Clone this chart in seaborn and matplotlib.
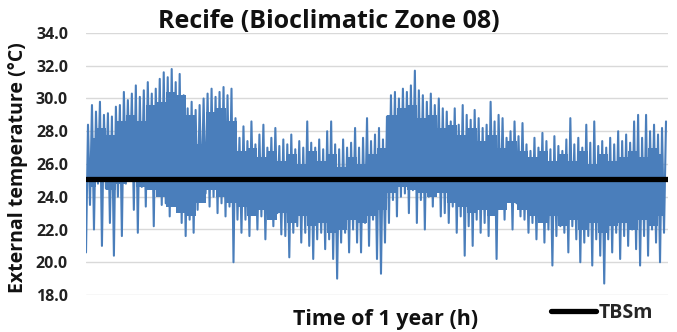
import numpy as np
import pandas as pd
import matplotlib
matplotlib.use("Agg")
import matplotlib.pyplot as plt
import seaborn as sns

# Envelope of hourly external temperature (°C) in ~60 h steps
upper = [28.4, 29.6, 29.2, 29.8, 29.0, 29.1, 28.9, 29.5, 29.6, 30.4,
         29.9, 30.3, 30.8, 30.1, 30.5, 31.0, 30.3, 30.6, 31.2, 31.6,
         31.3, 31.8, 31.0, 31.5, 30.2, 29.4, 29.8, 29.3, 29.6, 30.0,
         30.3, 30.6, 30.1, 30.4, 30.7, 30.2, 30.6, 28.8, 27.6, 28.3,
         27.4, 28.6, 27.2, 27.8, 28.4, 27.0, 27.6, 28.2, 27.1, 27.5,
         27.2, 27.8, 26.9, 27.4, 27.0, 28.6, 27.3, 27.0, 27.5, 26.9,
         28.0, 28.6, 27.2, 26.9, 27.5, 27.0, 27.3, 28.2, 27.0, 27.6,
         28.8, 27.4, 27.8, 28.2, 27.5, 28.9, 30.2, 30.4, 30.0, 30.6,
         30.4, 30.8, 31.7, 30.5, 30.2, 29.8, 30.3, 29.6, 30.0, 29.4,
         29.2, 28.6, 29.4, 28.4, 29.6, 29.0, 28.7, 29.3, 28.8, 28.2,
         28.4, 29.8, 28.6, 29.0, 28.8, 27.6, 28.0, 28.6, 27.7, 28.5,
         27.2, 26.8, 27.6, 27.0, 27.9, 27.4, 26.9, 27.7, 27.1, 26.8,
         27.5, 28.8, 27.2, 27.6, 27.0, 28.4, 27.3, 28.6, 27.1, 27.4,
         27.0, 27.6, 27.2, 28.0, 27.4, 27.8, 27.3, 28.6, 29.0, 27.6,
         29.0, 28.0, 28.4, 27.8, 28.2, 28.6]
lower = [20.6, 23.5, 22.0, 24.8, 21.0, 24.5, 22.4, 20.4, 24.0, 21.6,
         24.8, 25.2, 23.2, 21.8, 24.6, 23.4, 25.0, 22.2, 24.4, 23.5,
         23.6, 22.8, 24.0, 23.2, 22.4, 21.6, 22.6, 21.8, 23.2, 24.2,
         24.2, 23.4, 24.0, 23.0, 23.6, 22.8, 23.4, 20.0, 22.6, 21.8,
         22.6, 21.6, 23.2, 22.0, 22.8, 21.4, 22.9, 22.2, 23.0, 21.7,
         21.6, 20.3, 21.8, 22.2, 21.2, 21.8, 21.0, 20.2, 21.4, 21.8,
         20.8, 21.4, 20.2, 19.0, 21.2, 21.8, 20.6, 22.0, 21.2, 20.6,
         22.4, 21.0, 22.6, 20.2, 19.3, 21.2, 22.4, 23.8, 22.8, 24.0,
         24.2, 23.0, 24.4, 22.4, 23.8, 22.0, 24.0, 23.4, 24.4, 22.8,
         23.0, 22.4, 23.4, 21.8, 22.8, 20.4, 22.2, 21.0, 22.6, 21.8,
         22.4, 21.6, 23.0, 20.2, 23.4, 22.6, 23.8, 22.0, 23.6, 22.8,
         22.6, 21.8, 22.4, 21.4, 22.8, 21.2, 22.0, 19.8, 21.6, 22.2,
         21.8, 20.6, 22.2, 21.4, 20.0, 21.2, 21.6, 19.8, 21.4, 20.4,
         18.7, 21.4, 20.6, 21.8, 20.2, 21.6, 21.0, 22.0, 20.8, 19.8,
         21.6, 20.4, 22.0, 21.2, 20.0, 21.8]
# Edges of the dense (solid) part of the band, read every ~150 h
core_top = [27.6, 28.2, 27.8, 28.6, 29.0, 28.6, 29.6, 29.8, 30.4, 30.2,
            29.0, 27.2, 29.2, 29.4, 28.6, 26.8, 27.0, 26.4, 26.8, 26.2,
            26.6, 26.0, 26.8, 26.2, 26.6, 25.8, 26.4, 26.0, 26.6, 27.0,
            29.0, 29.4, 29.6, 28.8, 29.0, 28.2, 28.4, 27.8, 28.2, 27.4,
            27.8, 27.0, 27.4, 26.8, 26.4, 26.8, 26.2, 26.6, 26.2, 26.8,
            26.0, 26.6, 26.2, 26.4, 26.8, 26.4, 27.0, 26.6]
core_bottom = [24.6, 25.0, 24.4, 24.8, 25.0, 24.6, 24.4, 24.0, 23.4, 23.0,
               22.8, 23.6, 24.4, 24.0, 23.6, 23.4, 22.8, 23.2, 22.6, 23.0,
               22.4, 22.8, 22.2, 22.4, 21.8, 22.0, 22.6, 22.4, 22.8, 23.2,
               24.2, 24.6, 24.4, 24.2, 24.0, 24.2, 23.6, 23.4, 23.0, 23.2,
               22.8, 23.2, 23.6, 23.2, 22.8, 22.4, 22.8, 22.2, 22.6, 22.0,
               22.4, 21.8, 22.2, 22.4, 22.0, 22.6, 22.2, 22.8]
tbsm = 25.1  # mean dry-bulb temperature
yticks = [18.0, 20.0, 22.0, 24.0, 26.0, 28.0, 30.0, 32.0, 34.0]
title = "Recife (Bioclimatic Zone 08)"
xlabel = "Time of 1 year (h)"
ylabel = "External temperature (°C)"
legend_label = "TBSm"

# Build series: alternate low / high values along the year
n = len(upper)
step = 8760 / (2 * n)
temps = []
for lo, hi in zip(lower, upper):
    temps.extend([lo, hi])
hours = np.arange(len(temps)) * step
df = pd.DataFrame({"hour": hours, "temp": temps})
df_mean = pd.DataFrame({"hour": [0, 8760], "temp": [tbsm, tbsm]})
core_step = 8760 / len(core_top)
core_hours = (np.arange(len(core_top)) + 0.5) * core_step

BLUE = "#4A7EBB"

sns.set_style("white")
plt.rcParams["font.family"] = ["Open Sans", "DejaVu Sans"]
plt.rcParams["font.weight"] = "bold"

fig = plt.figure(figsize=(6.77, 3.32), dpi=100)
ax = fig.add_axes([86 / 677, 1 - 295 / 332, (668 - 86) / 677, (295 - 33) / 332])

ax.fill_between(core_hours, core_bottom, core_top, color=BLUE, linewidth=0, step="mid")
sns.lineplot(data=df, x="hour", y="temp", ax=ax, color=BLUE,
             linewidth=1.5, estimator=None, sort=False)
sns.lineplot(data=df_mean, x="hour", y="temp", ax=ax, color="black",
             linewidth=3.8, estimator=None, label=legend_label)

ax.set_xlim(0, 8760)
ax.set_ylim(18, 34)
ax.set_yticks(yticks)
ax.set_yticklabels([f"{v:.1f}" for v in yticks], fontsize=11.5, fontweight="bold", color="#222222")
ax.set_xticks([])
ax.grid(axis="y", color="#d9d9d9", linewidth=1.0)
ax.set_axisbelow(True)
for s in ax.spines.values():
    s.set_visible(False)
ax.tick_params(axis="y", length=0, pad=13)
ax.set_xlabel("")
ax.set_ylabel("")

fig.text(386 / 677, 1 - 319 / 332, xlabel, ha="center", va="center",
         fontsize=15.5, fontweight="bold", color="#111111")
fig.text(18 / 677, 1 - 168 / 332, ylabel, ha="center", va="center",
         rotation=90, fontsize=14, fontweight="bold", color="#111111")
fig.text(329 / 677, 1 - 22 / 332, title, ha="center", va="center",
         fontsize=18, fontweight="bold", color="#111111")

leg = ax.legend(loc="center left", bbox_to_anchor=(551 / 677, 1 - 313 / 332),
                bbox_transform=fig.transFigure, frameon=False,
                prop={"size": 14, "weight": "bold"}, handlelength=2.3,
                handletextpad=0.15, borderpad=0, borderaxespad=0)

fig.savefig("out.png", dpi=100, facecolor="white")
